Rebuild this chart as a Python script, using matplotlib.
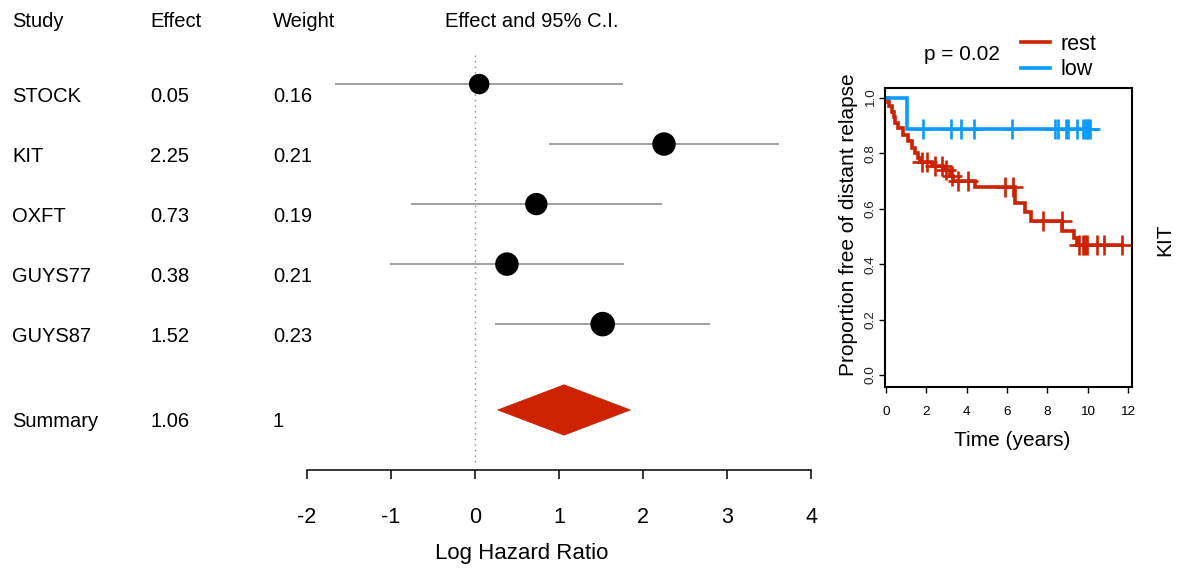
import numpy as np
import matplotlib
matplotlib.use('Agg')
import matplotlib.pyplot as plt
import matplotlib.transforms as mtransforms
from matplotlib.patches import Polygon
from matplotlib.lines import Line2D

plt.rcParams['font.family'] = ['Liberation Sans', 'DejaVu Sans']
plt.rcParams['axes.unicode_minus'] = False

# forest plot data
studies = ['STOCK', 'KIT', 'OXFT', 'GUYS77', 'GUYS87']
effects = [0.05, 2.25, 0.73, 0.38, 1.52]
weights = [0.16, 0.21, 0.19, 0.21, 0.23]
ci_low = [-1.67, 0.88, -0.76, -1.01, 0.24]
ci_high = [1.76, 3.62, 2.23, 1.77, 2.80]
summary_effect = 1.06
summary_low = 0.27
summary_high = 1.85
summary_weight = 1
x_ticks = [-2, -1, 0, 1, 2, 3, 4]

# kaplan-meier data (years, proportion)
low_event_times = [1.03]
low_surv = [0.887]
low_censor = [1.85, 3.22, 3.70, 4.38, 6.23, 8.38, 8.54, 8.92, 9.04, 9.45,
              9.78, 9.88, 9.95, 10.01, 10.11]
rest_event_times = [0.08, 0.17, 0.28, 0.38, 0.47, 0.6, 0.85, 1.1, 1.27, 1.43,
                    1.6, 1.7, 2.3, 2.85, 3.15, 3.3, 4.4, 6.4, 6.9, 7.2, 8.75,
                    9.3, 9.45]
rest_surv = [0.985, 0.97, 0.95, 0.93, 0.91, 0.89, 0.865, 0.845, 0.82, 0.80,
             0.785, 0.77, 0.755, 0.74, 0.72, 0.70, 0.68, 0.62, 0.588, 0.555,
             0.52, 0.495, 0.47]
rest_censor = [1.77, 2.02, 2.43, 2.76, 3.0, 3.26, 3.59, 4.08, 5.9, 6.28, 7.8,
               8.71, 9.58, 9.75, 9.87, 9.98, 10.44, 10.81, 11.71]
km_xticks = [0, 2, 4, 6, 8, 10, 12]
km_yticks = [0.0, 0.2, 0.4, 0.6, 0.8, 1.0]
p_value = 0.02

RED = '#cc2200'
BLUE = '#0a9bff'
W, H = 1183, 575

fig = plt.figure(figsize=(W / 100, H / 100), dpi=100)

# ---- forest plot ----
ax = fig.add_axes([307 / W, 1 - 470 / H, 504 / W, 470 / H])
ax.set_xlim(-2, 4)
ax.set_ylim(6.43, -1.4)
for s in ['top', 'left', 'right']:
    ax.spines[s].set_visible(False)
ax.spines['bottom'].set_linewidth(1.1)
ax.set_yticks([])
ax.set_xticks(x_ticks)
ax.tick_params(axis='x', length=6.5, width=1.1, labelsize=15.5, pad=20)

rows = np.arange(len(studies))
summary_row = 5.43

ax.vlines(0, -0.48, 6.3, colors='#888888', linestyles=(0, (1, 3)), lw=1)
ax.hlines(rows, ci_low, ci_high, colors='#8f8f8f', lw=1.2, zorder=2)
sizes = (36.9 * np.sqrt(weights)) ** 2
ax.scatter(effects, rows, s=sizes, c='black', zorder=3, linewidths=0)
dh = 0.42
ax.add_patch(Polygon([(summary_low, summary_row), (summary_effect, summary_row - dh),
                      (summary_high, summary_row), (summary_effect, summary_row + dh)],
                     closed=True, facecolor=RED, edgecolor=RED, lw=0.5))

tr = mtransforms.blended_transform_factory(fig.transFigure, ax.transData)
header_row = -1.05
fs = 14.5
for x, lab in [(12, 'Study'), (150, 'Effect'), (273, 'Weight')]:
    ax.text(x / W, header_row, lab, transform=tr, ha='left', va='center', fontsize=fs)
ax.text(532 / W, header_row, 'Effect and 95% C.I.', transform=tr, ha='center',
        va='center', fontsize=14.5)
off = 0.2
for i, name in enumerate(studies):
    ax.text(12 / W, i + off, name, transform=tr, ha='left', va='center', fontsize=fs)
    ax.text(150 / W, i + off, f'{effects[i]:.2f}', transform=tr, ha='left',
            va='center', fontsize=fs)
    ax.text(273 / W, i + off, f'{weights[i]:g}', transform=tr, ha='left',
            va='center', fontsize=fs)
ax.text(12 / W, summary_row + off, 'Summary', transform=tr, ha='left', va='center', fontsize=fs)
ax.text(150 / W, summary_row + off, f'{summary_effect:.2f}', transform=tr, ha='left',
        va='center', fontsize=fs)
ax.text(273 / W, summary_row + off, f'{summary_weight:g}', transform=tr, ha='left',
        va='center', fontsize=fs)
fig.text(522 / W, 1 - 553 / H, 'Log Hazard Ratio', ha='center', va='center', fontsize=16)

# ---- kaplan-meier plot ----
ax2 = fig.add_axes([885 / W, 1 - 387 / H, 247 / W, 299 / H])
ax2.set_xlim(-0.05, 12.2)
ax2.set_ylim(-0.043, 1.036)
for s in ax2.spines.values():
    s.set_linewidth(1.5)


def km_curve(times, surv, censor):
    t = np.r_[0, times, max(censor)]
    s = np.r_[1, surv, surv[-1]]
    idx = np.searchsorted(np.asarray(times), censor, side='right')
    cs = np.r_[1, surv][idx]
    return t, s, np.asarray(censor), cs


for times, surv, cens, col in [(rest_event_times, rest_surv, rest_censor, RED),
                               (low_event_times, low_surv, low_censor, BLUE)]:
    t, s, ct, cs = km_curve(times, surv, cens)
    ax2.step(t, s, where='post', color=col, lw=2.6, solid_joinstyle='miter')
    ax2.plot(ct, cs, ls='none', marker='+', ms=14, mew=1.9, color=col)

ax2.set_xticks(km_xticks)
ax2.set_xticklabels([str(v) for v in km_xticks])
ax2.set_yticks(km_yticks)
ax2.set_yticklabels([f'{v:.1f}' for v in km_yticks], rotation=90, va='center')
ax2.tick_params(axis='x', length=4, width=1, labelsize=9.7, pad=10)
ax2.tick_params(axis='y', length=4, width=1, labelsize=9.7, pad=2, labelcolor='#222222')

fig.text(848 / W, 1 - 225 / H, 'Proportion free of distant relapse', rotation=90,
         ha='center', va='center', fontsize=15)
fig.text(1012 / W, 1 - 440 / H, 'Time (years)', ha='center', va='center', fontsize=15)
fig.text(962 / W, 1 - 55 / H, f'p = {p_value}', ha='center', va='center', fontsize=15)
fig.text(1165 / W, 1 - 240 / H, 'KIT', rotation=90, ha='center', va='center', fontsize=15)

handles = [Line2D([], [], color=RED, lw=2.6), Line2D([], [], color=BLUE, lw=2.6)]
fig.legend(handles, ['rest', 'low'], loc='center left',
           bbox_to_anchor=(1021 / W, 1 - 57 / H), frameon=False, fontsize=15.5,
           handlelength=1.35, handletextpad=0.5, labelspacing=0.2, borderpad=0,
           borderaxespad=0)

fig.savefig('out.png', dpi=100)
